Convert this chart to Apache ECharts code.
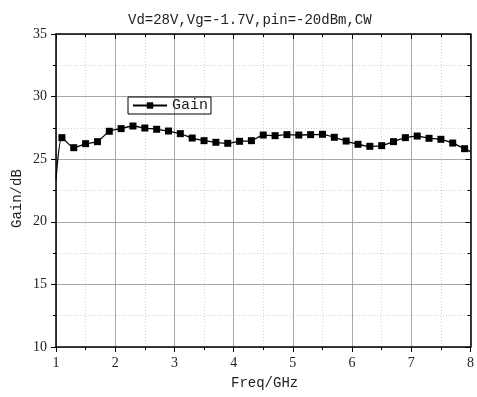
<!DOCTYPE html>
<html><head><meta charset="utf-8">
<script src="https://cdn.jsdelivr.net/npm/echarts@6/dist/echarts.min.js"></script>
<style>html,body{margin:0;padding:0;background:#fff}#c{width:477px;height:397px}</style>
</head><body><div id="c"></div>
<script>
const titleText = 'Vd=28V,Vg=-1.7V,pin=-20dBm,CW';
const xName = 'Freq/GHz';
const yName = 'Gain/dB';
const seriesName = 'Gain';
const freq = [1.0, 1.1, 1.3, 1.5, 1.7, 1.9, 2.1, 2.3, 2.5, 2.7, 2.9, 3.1, 3.3, 3.5, 3.7, 3.9, 4.1, 4.3,
  4.5, 4.7, 4.9, 5.1, 5.3, 5.5, 5.7, 5.9, 6.1, 6.3, 6.5, 6.7, 6.9, 7.1, 7.3, 7.5, 7.7, 7.9, 8.0];
const gain = [23.4, 26.72, 25.92, 26.24, 26.40, 27.23, 27.44, 27.65, 27.49, 27.39, 27.25, 27.04, 26.69, 26.48, 26.35, 26.27, 26.43, 26.48,
  26.93, 26.88, 26.96, 26.93, 26.96, 26.99, 26.75, 26.45, 26.19, 26.03, 26.08, 26.40, 26.72, 26.85, 26.67, 26.59, 26.29, 25.84, 25.6];
const xTicks = [1, 2, 3, 4, 5, 6, 7, 8];
const yTicks = [10, 15, 20, 25, 30, 35];

const mono = "'Liberation Mono', monospace";
const serif = "'Liberation Serif', serif";
const data = freq.map((f, i) => {
  const item = { value: [f, gain[i]] };
  if (i === 0 || i === freq.length - 1) item.symbol = 'none';
  return item;
});
const axBase = (min, max, interval) => ({
  type: 'value', min, max, interval,
  axisLine: { show: true, onZero: false, lineStyle: { color: '#000', width: 1.5 } },
  minorTick: { show: true, splitNumber: 2, length: 3, lineStyle: { color: '#000', width: 1 } },
  axisTick: { show: true, length: 5, lineStyle: { color: '#000', width: 1 } },
});
const chart = echarts.init(document.getElementById('c'), null, { renderer: 'canvas' });
chart.setOption({
  animation: false,
  backgroundColor: '#fff',
  title: { text: titleText, left: 123, top: 8, textStyle: { fontFamily: mono, fontSize: 14, fontWeight: 'normal', color: '#222' } },
  grid: { left: 56, right: 4, top: 34, bottom: 50, containLabel: false },
  legend: {
    data: [seriesName], left: 128, top: 97, orient: 'horizontal',
    borderColor: '#000', borderWidth: 1, padding: [1, 3, 1, 4],
    itemWidth: 34, itemHeight: 8, itemGap: 4,
    textStyle: { fontFamily: mono, fontSize: 15, color: '#222' }
  },
  xAxis: [
    Object.assign(axBase(xTicks[0], xTicks[xTicks.length - 1], 1), {
      position: 'bottom',
      axisLabel: { fontFamily: serif, fontSize: 14, color: '#222', margin: 9 },
      splitLine: { show: true, lineStyle: { color: '#a8a8a8', width: 1 } },
      minorSplitLine: { show: true, lineStyle: { color: '#d0d0d0', width: 1, type: [1, 2] } }
    }),
    Object.assign(axBase(xTicks[0], xTicks[xTicks.length - 1], 1), {
      position: 'top',
      axisLabel: { show: false },
      axisTick: { show: true, inside: true, length: 5, lineStyle: { color: '#000' } },
      minorTick: { show: true, splitNumber: 2, length: 3, lineStyle: { color: '#000' } },
      splitLine: { show: false }
    })
  ],
  yAxis: [
    Object.assign(axBase(yTicks[0], yTicks[yTicks.length - 1], 5), {
      position: 'left',
      axisLabel: { fontFamily: serif, fontSize: 14, color: '#222', margin: 9 },
      splitLine: { show: true, lineStyle: { color: '#a8a8a8', width: 1 } },
      minorSplitLine: { show: true, lineStyle: { color: '#d0d0d0', width: 1, type: [1, 2] } }
    }),
    Object.assign(axBase(yTicks[0], yTicks[yTicks.length - 1], 5), {
      position: 'right',
      axisLabel: { show: false },
      axisTick: { show: true, inside: true, length: 5, lineStyle: { color: '#000' } },
      minorTick: { show: true, splitNumber: 2, length: 3, lineStyle: { color: '#000' } },
      splitLine: { show: false }
    })
  ],
  graphic: [
    { type: 'text', left: 231, top: 376, style: { text: xName, font: "14px 'Liberation Mono', monospace", fill: '#222' } },
    { type: 'text', x: 10, y: 228, rotation: Math.PI / 2, style: { text: yName, font: "14px 'Liberation Mono', monospace", fill: '#222' } }
  ],
  series: [{
    name: seriesName, type: 'line', data,
    xAxisIndex: 0, yAxisIndex: 0,
    smooth: 0.2,
    symbol: 'rect', symbolSize: 7,
    lineStyle: { color: '#000', width: 1.3 },
    itemStyle: { color: '#000' }
  }]
});
</script></body></html>
